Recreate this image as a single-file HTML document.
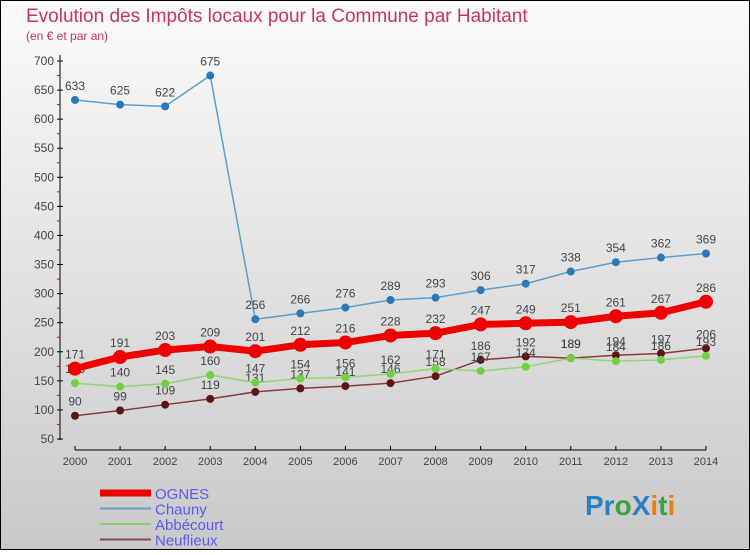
<!DOCTYPE html>
<html><head><meta charset="utf-8"><style>
body{margin:0;width:750px;height:550px;overflow:hidden;font-family:"Liberation Sans",sans-serif}
</style></head><body>
<svg width="750" height="550" xmlns="http://www.w3.org/2000/svg">
<defs><linearGradient id="bg" x1="0" y1="0" x2="0" y2="1"><stop offset="0" stop-color="#fbfbfb"/><stop offset="1" stop-color="#c9c9c9"/></linearGradient></defs>
<rect x="0.5" y="0.5" width="749" height="549" fill="url(#bg)" stroke="#000"/>
<text x="26" y="22" font-size="19" fill="#c8345a">Evolution des Impôts locaux pour la Commune par Habitant</text>
<text x="26" y="40" font-size="12" fill="#c8345a">(en € et par an)</text>
<g id="axes"></g><g id="series"></g><g id="legend"></g>
<text x="585" y="515" font-size="28" font-weight="bold"><tspan fill="#2a7fc8">Pr</tspan><tspan fill="#3aa040">o</tspan><tspan fill="#2a7fc8">X</tspan><tspan fill="#f07a10">i</tspan><tspan fill="#3aa040">t</tspan><tspan fill="#f07a10">i</tspan></text>
</svg>
<script>
const years=[2000,2001,2002,2003,2004,2005,2006,2007,2008,2009,2010,2011,2012,2013,2014];
const ognes=[171,191,203,209,201,212,216,228,232,247,249,251,261,267,286];
const chauny=[633,625,622,675,256,266,276,289,293,306,317,338,354,362,369];
const abbecourt=[146,140,145,160,147,154,156,162,171,167,174,189,184,186,193];
const neuflieux=[90,99,109,119,131,137,141,146,158,186,192,189,194,197,206];
const yTicks=[50,100,150,200,250,300,350,400,450,500,550,600,650,700];
const NS="http://www.w3.org/2000/svg";
const X=i=>75+i*(706-75)/(years.length-1);
const Y=v=>439-(v-50)*(378/650);
function mk(t,a,p){const e=document.createElementNS(NS,t);for(const k in a)e.setAttribute(k,a[k]);p.appendChild(e);return e;}
const ax=document.getElementById('axes');
let l=mk('line',{x1:60,y1:55,x2:60,y2:440,stroke:'#000'},ax);


l=mk('line',{x1:75,y1:450,x2:706,y2:450,stroke:'#000'},ax);


yTicks.forEach(v=>{
 mk('line',{x1:57,y1:Y(v),x2:63,y2:Y(v),stroke:'#000'},ax);
 if(v<700) mk('line',{x1:57,y1:Y(v+25),x2:60,y2:Y(v+25),stroke:'#e00'},ax);
 const t=mk('text',{x:54,y:Y(v)+4,'font-size':12,fill:'#444','text-anchor':'end'},ax);t.textContent=v;
 
 
});
years.forEach((yr,i)=>{
 mk('line',{x1:X(i),y1:446,x2:X(i),y2:450,stroke:'#000'},ax);
 const t=mk('text',{x:X(i),y:465,'font-size':11,fill:'#444','text-anchor':'middle'},ax);t.textContent=yr;
 
 
});
const sg=document.getElementById('series');
function series(name,vals,color,w,r,dot){
 const g=mk('g',{},sg);
 
 
 mk('polyline',{points:vals.map((v,i)=>X(i)+','+Y(v)).join(' '),fill:'none',stroke:color,'stroke-width':w,'stroke-linejoin':'round'},g);
 vals.forEach((v,i)=>{
  const c=mk('circle',{cx:X(i),cy:Y(v),r:r,fill:dot},g);
  
  
  const t=mk('text',{x:X(i),y:Y(v)-10,'font-size':12,fill:'#444','text-anchor':'middle'},g);t.textContent=v;
  
  
 });
}
series('neuflieux',neuflieux,'#8a3a3a',1.5,4,'#5a1515');
series('abbecourt',abbecourt,'#8fd870',1.5,4,'#70d040');
series('chauny',chauny,'#5a9fd0',1.5,4,'#2a78b8');
series('ognes',ognes,'#ee0000',7,7,'#ee0000');
const lg=document.getElementById('legend');
const items=[['OGNES','#ee0000',7],['Chauny','#6aa0cc',2],['Abbécourt','#88d070',2],['Neuflieux','#8a4a4a',2]];
items.forEach((d,i)=>{
 const y=493+i*15.5;
 const g=mk('g',{},lg);
 
 
 mk('line',{x1:100,x2:151,y1:y,y2:y,stroke:d[1],'stroke-width':d[2]},g);
 const t=mk('text',{x:155,y:y+6,'font-size':15,fill:'#5a5af0'},g);
 t.textContent=d[0];
});
</script>
</body></html>
